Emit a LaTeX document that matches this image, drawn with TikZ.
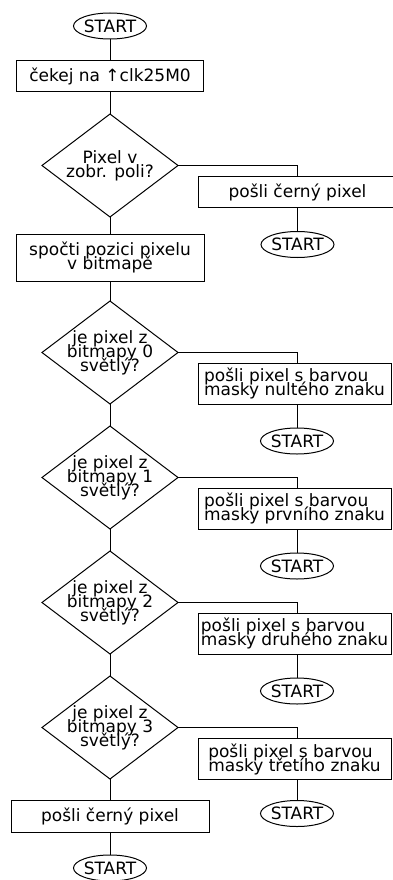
\documentclass[tikz,border=0pt]{standalone}
\usepackage{fontspec}
\setmainfont{DejaVu Sans}
\usepackage{tikz}
\usetikzlibrary{shapes.geometric, positioning}

\newcommand{\chartfont}{\fontsize{17pt}{14pt}\selectfont\lineskiplimit=-100pt}

\begin{document}
\begin{tikzpicture}[
    terminal/.style={
        ellipse,
        draw=black,
        line width=1pt,
        inner xsep=-2pt,
        inner ysep=0pt,
        outer sep=0pt,
        minimum width=73pt,
        minimum height=26pt,
        font=\chartfont
    },
    process/.style={
        rectangle,
        draw=black,
        line width=1pt,
        inner sep=2pt,
        outer sep=0pt,
        minimum width=187pt,
        minimum height=31pt,
        font=\chartfont,
        align=center
    },
    decision/.style={
        diamond,
        draw=black,
        line width=1pt,
        aspect=1.32,
        inner sep=-4pt,
        outer sep=0pt,
        minimum width=136pt,
        minimum height=103pt,
        font=\chartfont,
        align=center
    },
    flow/.style={draw=black, line width=1pt}
]
    \useasboundingbox (0pt,0pt) rectangle (393pt,-880pt);
    \clip (0pt,0pt) rectangle (393pt,-880pt);

    % main column
    \node[terminal] (start) at (110pt,-26pt) {START};
    \node[process, below=22pt of start] (wait) {čekej na ↑clk25M0};
    \node[decision, below=22pt of wait] (pixel) {Pixel v\\zobr. poli?};
    \node[process, minimum width=188pt, minimum height=47pt, below=17pt of pixel] (calc) {spočti pozici pixelu\\v bitmapě};
    \node[decision, below=20pt of calc] (bit0) {je pixel z\\bitmapy 0\\světlý?};
    \node[decision, below=22pt of bit0] (bit1) {je pixel z\\bitmapy 1\\světlý?};
    \node[decision, below=22pt of bit1] (bit2) {je pixel z\\bitmapy 2\\světlý?};
    \node[decision, below=22pt of bit2] (bit3) {je pixel z\\bitmapy 3\\světlý?};
    \node[process, minimum width=198pt, minimum height=32pt, below=21pt of bit3] (black) {pošli černý pixel};
    \node[terminal, below=23pt of black] (stop) {START};

    % right column
    \node[process, minimum width=199pt, below right=11pt and 20pt of pixel.east] (out) {pošli černý pixel};
    \node[terminal, below=24pt of out] (out-s) {START};
    \node[process, align=left, minimum width=193pt, minimum height=41pt, below right=10.5pt and 20pt of bit0.east] (mask0) {pošli pixel s barvou\\masky nultého znaku};
    \node[terminal, below=24pt of mask0, xshift=2.5pt] (mask0-s) {START};
    \node[process, align=left, minimum width=193pt, minimum height=41pt, below right=10.5pt and 20pt of bit1.east] (mask1) {pošli pixel s barvou\\masky prvního znaku};
    \node[terminal, below=24pt of mask1, xshift=2.5pt] (mask1-s) {START};
    \node[process, align=left, minimum width=193pt, minimum height=41pt, below right=10.5pt and 20pt of bit2.east] (mask2) {pošli pixel s barvou\\masky druhého znaku};
    \node[terminal, below=24pt of mask2, xshift=2.5pt] (mask2-s) {START};
    \node[process, align=left, minimum width=193pt, minimum height=41pt, below right=11pt and 20pt of bit3.east] (mask3) {pošli pixel s barvou\\masky třetího znaku};
    \node[terminal, below=21pt of mask3, xshift=2.5pt] (mask3-s) {START};

    % connectors down the main column
    \draw[flow] (start) -- (wait);
    \draw[flow] (wait) -- (pixel);
    \draw[flow] (pixel) -- (calc);
    \draw[flow] (calc) -- (bit0);
    \draw[flow] (bit0) -- (bit1);
    \draw[flow] (bit1) -- (bit2);
    \draw[flow] (bit2) -- (bit3);
    \draw[flow] (bit3) -- (black);
    \draw[flow] (black) -- (stop);

    % branches to the right
    \draw[flow] (pixel.east) -| (out-s |- out.north);
    \draw[flow] (out.south -| out-s) -- (out-s);
    \draw[flow] (bit0.east) -| (mask0-s |- mask0.north);
    \draw[flow] (mask0.south -| mask0-s) -- (mask0-s);
    \draw[flow] (bit1.east) -| (mask1-s |- mask1.north);
    \draw[flow] (mask1.south -| mask1-s) -- (mask1-s);
    \draw[flow] (bit2.east) -| (mask2-s |- mask2.north);
    \draw[flow] (mask2.south -| mask2-s) -- (mask2-s);
    \draw[flow] (bit3.east) -| (mask3-s |- mask3.north);
    \draw[flow] (mask3.south -| mask3-s) -- (mask3-s);
\end{tikzpicture}
\end{document}
